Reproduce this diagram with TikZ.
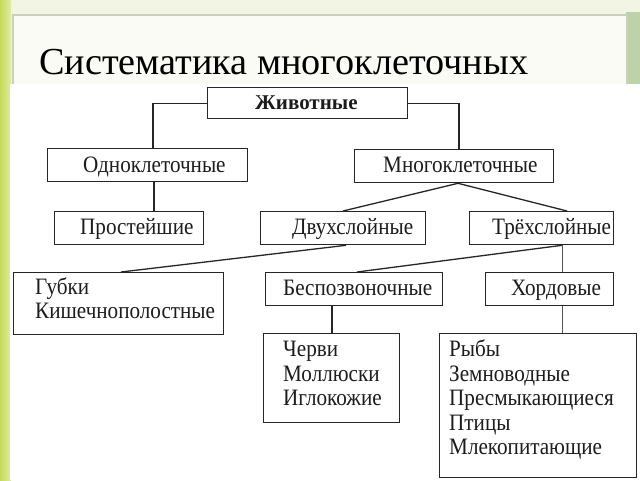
\documentclass[tikz,border=0pt]{standalone}
\usepackage{fontspec}
\setmainfont{Liberation Serif}
\newfontfamily\boxfont[FakeStretch=0.9]{Liberation Serif}
\usetikzlibrary{calc}
\definecolor{lineC}{HTML}{262626}
\definecolor{thinC}{HTML}{555555}
\definecolor{txtC}{HTML}{1C1C1C}
\definecolor{bgC}{HTML}{F2F4E4}
\definecolor{panelC}{HTML}{FAFBF4}
\definecolor{frameC}{HTML}{C9D0BC}
\definecolor{stripA}{HTML}{C6DA58}
\definecolor{stripB}{HTML}{E2ECA6}
\definecolor{rightC}{HTML}{BCD2A8}
\begin{document}
\begin{tikzpicture}[x=1pt,y=-1pt,
  box/.style={draw=lineC, line width=1.3pt, anchor=north west, inner sep=0pt},
  lbl/.style={anchor=base west, inner sep=0pt, text=txtC, font=\boxfont\fontsize{23.5}{26}\selectfont},
  conn/.style={draw=lineC, line width=1.3pt},
  thinconn/.style={draw=thinC, line width=0.9pt}]
\useasboundingbox (0,0) rectangle (640,480);
% slide background
\fill[bgC] (0,0) rectangle (640,480);
\fill[rightC] (626,12) rectangle (640,84);
\fill[panelC] (14,16) rectangle (626,84);
\draw[frameC, line width=2.5pt] (13,84) -- (13,15) -- (627,15) -- (627,84);
\shade[left color=stripA, right color=stripB] (0,0) rectangle (11,480);
% white diagram area
\fill[white] (10,84) rectangle (640,480);
% title
\node[anchor=base west, inner sep=0pt, font=\fontsize{38.2}{40}\selectfont] (title) at (39,74) {Систематика многоклеточных};
% boxes
\node[box, minimum width=200pt, minimum height=31pt] (zhiv) at (207,87) {};
\node[box, minimum width=200pt, minimum height=33pt] (odno) at (47,148) {};
\node[box, minimum width=199pt, minimum height=33pt] (mnogo) at (354,149) {};
\node[box, minimum width=149pt, minimum height=33pt] (prost) at (54,211) {};
\node[box, minimum width=165pt, minimum height=33pt] (dvuh) at (260,211) {};
\node[box, minimum width=144pt, minimum height=33pt] (tryoh) at (469,211) {};
\node[box, minimum width=210pt, minimum height=62pt] (gubki) at (13,272) {};
\node[box, minimum width=177pt, minimum height=33pt] (bespoz) at (265,272) {};
\node[box, minimum width=128pt, minimum height=33pt] (hord) at (485,272) {};
\node[box, minimum width=136pt, minimum height=89pt] (cherv) at (263,333) {};
\node[box, minimum width=197pt, minimum height=144pt] (ryby) at (439,333) {};
% texts
\node[lbl, font=\fontsize{21}{24}\selectfont\bfseries] (tZhiv) at (255,109) {Животные};
\node[lbl] (tOdno) at (83,172) {Одноклеточные};
\node[lbl] (tMnogo) at (383,172) {Многоклеточные};
\node[lbl] (tProst) at (80,234) {Простейшие};
\node[lbl] (tDvuh) at (292,234) {Двухслойные};
\node[lbl] (tTryoh) at (492,234) {Трёхслойные};
\node[lbl] (tGub1) at (35,294) {Губки};
\node[lbl] (tGub2) at (35,318) {Кишечнополостные};
\node[lbl] (tBesp) at (283,295) {Беспозвоночные};
\node[lbl] (tHord) at (511,295) {Хордовые};
\node[lbl] (tCh1) at (283,356) {Черви};
\node[lbl] (tCh2) at (283,381) {Моллюски};
\node[lbl] (tCh3) at (283,405) {Иглокожие};
\node[lbl] (tR1) at (449,356) {Рыбы};
\node[lbl] (tR2) at (449,381) {Земноводные};
\node[lbl] (tR3) at (449,405) {Пресмыкающиеся};
\node[lbl] (tR4) at (449,430) {Птицы};
\node[lbl] (tR5) at (449,454) {Млекопитающие};
% connectors
\draw[conn] (zhiv.west) -| ($(odno.north west)+(106,0)$);
\draw[conn] (zhiv.east) -| ($(mnogo.north west)+(105,0)$);
\draw[conn] ($(odno.south west)+(107,0)$) coordinate (o1) -- (o1 |- prost.north);
\draw[conn] ($(mnogo.south west)+(104,0)$) coordinate (m1) -- ($(dvuh.north west)+(83,0)$);
\draw[conn] (m1) -- ($(tryoh.north west)+(98,0)$);
\draw[conn] ($(dvuh.south west)+(86,0)$) -- ($(gubki.north west)+(108,0)$);
\draw[conn] ($(tryoh.south west)+(93,0)$) coordinate (t1) -- ($(bespoz.north west)+(92,0)$);
\draw[thinconn] (t1) -- (t1 |- hord.north);
\draw[conn] ($(bespoz.south west)+(67,0)$) coordinate (b1) -- (b1 |- cherv.north);
\draw[thinconn] ($(hord.south west)+(77,0)$) coordinate (h1) -- (h1 |- ryby.north);
\end{tikzpicture}
\end{document}
